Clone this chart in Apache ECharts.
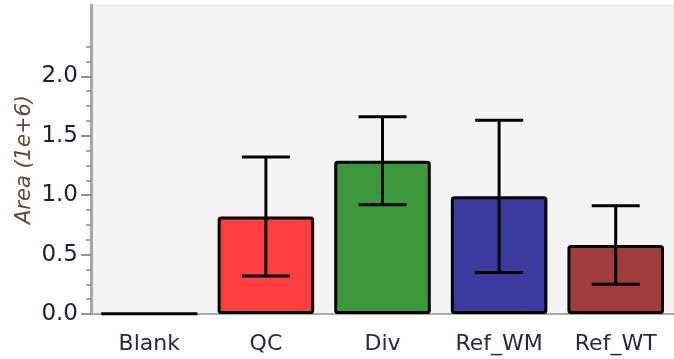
<!DOCTYPE html>
<html>
<head>
<meta charset="utf-8">
<script src="https://cdn.jsdelivr.net/npm/echarts@6/dist/echarts.min.js"></script>
<style>
  html, body { margin: 0; padding: 0; background: #ffffff; }
  #chart { width: 674px; height: 359px; }
</style>
</head>
<body>
<div id="chart"></div>
<script>
// Group names along the x axis
const categories = ['Blank', 'QC', 'Div', 'Ref_WM', 'Ref_WT'];
// Mean peak area per group (units of 1e+6)
const means = [0.004, 0.82, 1.29, 0.99, 0.58];
// Error half-widths (units of 1e+6)
const errors = [0, 0.5, 0.37, 0.64, 0.33];
// Fill colour for each group
const colors = ['#f4f4f4', '#fe3f3f', '#3b993b', '#3b3b9f', '#a23c3c'];
// Labelled y ticks and the small unlabelled ticks between them
const majorTicks = [0, 0.5, 1.0, 1.5, 2.0];
const minorTicks = [0.125, 0.25, 0.375, 0.625, 0.75, 0.875, 1.125, 1.25, 1.375,
                    1.625, 1.75, 1.875, 2.125, 2.25];

const chart = echarts.init(document.getElementById('chart'), null, { renderer: 'canvas' });

const font = 'DejaVu Sans';
const axisGray = '#a8a8a8';

const option = {
  animation: false,
  backgroundColor: '#ffffff',
  grid: {
    left: 91, top: 5, width: 586, bottom: 45,
    show: true, backgroundColor: '#f4f4f4', borderColor: '#e2e2e2', borderWidth: 1
  },
  xAxis: {
    type: 'category',
    data: categories,
    axisLine: { lineStyle: { color: axisGray, width: 2 } },
    axisTick: { alignWithLabel: true, length: 9, lineStyle: { color: '#909090', width: 1.5 } },
    axisLabel: { margin: 19, fontFamily: font, fontSize: 22, color: '#2a2a3a' },
    splitLine: { show: false }
  },
  yAxis: [
    {
      type: 'value', min: 0, max: 2.6, interval: 0.5,
      name: 'Area (1e+6)', nameLocation: 'middle', nameGap: 56, nameMoveOverlap: false,
      nameTextStyle: { fontFamily: font, fontSize: 21, fontStyle: 'italic', color: '#5e4b36' },
      axisLine: { show: true, lineStyle: { color: axisGray, width: 3 } },
      axisTick: { show: true, length: 10, customValues: majorTicks, lineStyle: { color: '#707070', width: 1.5 } },
      axisLabel: {
        margin: 13, fontFamily: font, fontSize: 23, color: '#1e1e2e',
        customValues: majorTicks,
        formatter: v => v.toFixed(1)
      },
      splitLine: { show: false }
    },
    {
      type: 'value', min: 0, max: 2.6, position: 'left',
      axisLine: { show: false },
      axisTick: { show: true, inside: false, length: 5, customValues: minorTicks, lineStyle: { color: '#8a8a8a', width: 1.5 } },
      axisLabel: { show: false },
      splitLine: { show: false }
    }
  ],
  series: [
    {
      type: 'bar',
      barWidth: '82.8%',
      data: means.map((v, i) => ({
        value: v,
        itemStyle: { color: colors[i], borderColor: '#000', borderWidth: 3, borderRadius: 2 }
      }))
    },
    {
      type: 'custom',
      z: 10,
      data: means.map((v, i) => [i, v - errors[i], v + errors[i]]),
      renderItem: function (params, api) {
        const idx = api.value(0);
        if (errors[idx] === 0) return null;
        const low = api.coord([idx, api.value(1)]);
        const high = api.coord([idx, api.value(2)]);
        const half = 24;
        const style = { stroke: '#000', lineWidth: 3 };
        return {
          type: 'group',
          children: [
            { type: 'line', shape: { x1: high[0], y1: high[1], x2: low[0], y2: low[1] }, style },
            { type: 'line', shape: { x1: high[0] - half, y1: high[1], x2: high[0] + half, y2: high[1] }, style },
            { type: 'line', shape: { x1: low[0] - half, y1: low[1], x2: low[0] + half, y2: low[1] }, style }
          ]
        };
      }
    }
  ]
};

chart.setOption(option);
</script>
</body>
</html>
